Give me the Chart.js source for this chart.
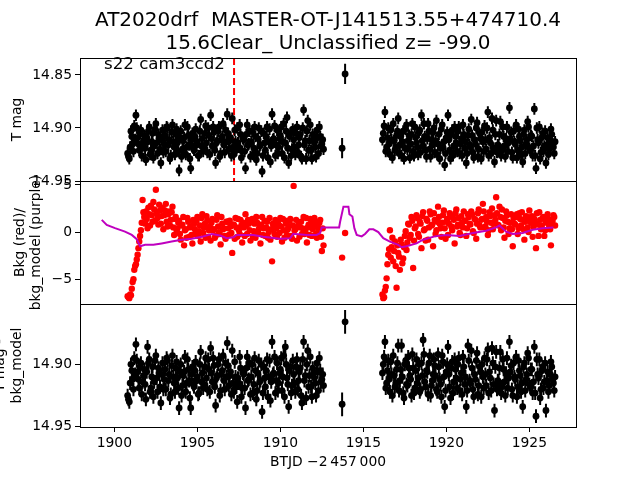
<!DOCTYPE html>
<html>
<head>
<meta charset="utf-8">
<script src="https://cdn.jsdelivr.net/npm/chart.js@4.4.1/dist/chart.umd.min.js"></script>
<style>
html,body{margin:0;padding:0;background:#fff;width:640px;height:480px;overflow:hidden;}
canvas{position:absolute;left:0;top:0;}
.t{position:absolute;font-family:'DejaVu Sans';color:#000;white-space:pre;}
</style>
</head>
<body>
<canvas id="c1" width="640" height="480"></canvas>
<canvas id="c2" width="640" height="480"></canvas>
<canvas id="c3" width="640" height="480"></canvas>
<div class="t" style="left:0;width:656px;text-align:center;top:9px;font-size:20px;line-height:20px">AT2020drf  MASTER-OT-J141513.55+474710.4</div>
<div class="t" style="left:0;width:656px;text-align:center;top:32px;font-size:20px;line-height:20px">15.6Clear_ Unclassified z= -99.0</div>
<div class="t" style="left:104px;top:56px;font-size:16.67px;line-height:16.67px">s22 cam3ccd2</div>
<script>
// ---- data (BTJD - 2457000) : cadence set 1 ----
const times = [
1900.8,1900.9,1901.0,1901.1,1901.2,1901.3,1901.4,1901.5,1901.6,1901.7,
1901.8,1901.9,1902.0,1902.1,1902.2,1902.3,1902.4,1902.5,1902.6,1902.7,
1902.8,1902.9,1903.0,1903.1,1903.2,1903.3,1903.4,1903.5,1903.6,1903.7,
1903.8,1903.9,1904.0,1904.1,1904.2,1904.3,1904.4,1904.5,1904.6,1904.7,
1904.8,1904.9,1905.0,1905.1,1905.2,1905.3,1905.4,1905.5,1905.6,1905.7,
1905.8,1905.9,1906.0,1906.1,1906.2,1906.3,1906.4,1906.5,1906.6,1906.7,
1906.8,1906.9,1907.0,1907.1,1907.2,1907.3,1907.4,1907.5,1907.6,1907.7,
1907.8,1907.9,1908.0,1908.1,1908.2,1908.3,1908.4,1908.5,1908.6,1908.7,
1908.8,1908.9,1909.0,1909.1,1909.2,1909.3,1909.4,1909.5,1909.6,1909.7,
1909.8,1909.9,1910.0,1910.1,1910.2,1910.3,1910.4,1910.5,1910.6,1910.7,
1910.8,1910.9,1911.0,1911.1,1911.2,1911.3,1911.4,1911.5,1911.6,1911.7,
1911.8,1911.9,1912.0,1912.1,1912.2,1912.3,1912.4,1912.5,1912.6,
1916.2,1916.3,1916.4,1916.5,1916.6,1916.7,1916.8,1916.9,1917.0,1917.1,
1917.2,1917.3,1917.4,1917.5,1917.6,1917.7,1917.8,1917.9,1918.0,1918.1,
1918.2,1918.3,1918.4,1918.5,1918.6,1918.7,1918.8,1918.9,1919.0,1919.1,
1919.2,1919.3,1919.4,1919.5,1919.6,1919.7,1919.8,1919.9,1920.0,1920.1,
1920.2,1920.3,1920.4,1920.5,1920.6,1920.7,1920.8,1920.9,1921.0,1921.1,
1921.2,1921.3,1921.4,1921.5,1921.6,1921.7,1921.8,1921.9,1922.0,1922.1,
1922.2,1922.3,1922.4,1922.5,1922.6,1922.7,1922.8,1922.9,1923.0,1923.1,
1923.2,1923.3,1923.4,1923.5,1923.6,1923.7,1923.8,1923.9,1924.0,1924.1,
1924.2,1924.3,1924.4,1924.5,1924.6,1924.7,1924.8,1924.9,1925.0,1925.1,
1925.2,1925.3,1925.4,1925.5,1925.6,1925.7,1925.8,1925.9,1926.0,1926.1,
1926.2,1926.3,1926.4,1926.5
];
const tMag = [
14.924,14.929,14.903,14.915,14.898,14.888,14.909,14.921,14.902,14.917,
14.907,14.930,14.913,14.899,14.921,14.905,14.917,14.896,14.924,14.910,
14.933,14.902,14.915,14.922,14.900,14.911,14.926,14.897,14.918,14.906,
14.914,14.940,14.903,14.920,14.909,14.925,14.899,14.916,14.938,14.905,
14.921,14.901,14.913,14.926,14.892,14.910,14.919,14.898,14.923,14.907,
14.888,14.917,14.904,14.933,14.912,14.899,14.924,14.908,14.916,14.902,
14.887,14.920,14.909,14.891,14.925,14.913,14.900,14.918,14.906,14.922,
14.911,14.938,14.897,14.915,14.927,14.903,14.919,14.908,14.924,14.900,
14.916,14.941,14.905,14.921,14.899,14.913,14.932,14.887,14.910,14.926,
14.902,14.918,14.907,14.924,14.896,14.914,14.890,14.933,14.905,14.920,
14.911,14.925,14.899,14.916,14.906,14.929,14.883,14.912,14.903,14.921,
14.897,14.929,14.910,14.918,14.902,14.924,14.908,14.915,14.920,
14.905,14.885,14.918,14.900,14.925,14.911,14.896,14.921,14.907,14.891,
14.916,14.926,14.903,14.919,14.897,14.912,14.928,14.906,14.922,14.899,
14.914,14.925,14.902,14.888,14.917,14.908,14.927,14.896,14.920,14.911,
14.904,14.923,14.893,14.915,14.929,14.901,14.918,14.935,14.909,14.888,
14.921,14.906,14.926,14.899,14.914,14.903,14.924,14.910,14.897,14.919,
14.933,14.907,14.916,14.892,14.923,14.911,14.900,14.927,14.905,14.929,
14.913,14.898,14.920,14.885,14.909,14.924,14.902,14.932,14.893,14.916,
14.906,14.926,14.899,14.917,14.910,14.922,14.881,14.904,14.928,14.913,
14.897,14.921,14.908,14.925,14.932,14.902,14.915,14.894,14.919,14.907,
14.926,14.882,14.938,14.911,14.899,14.923,14.905,14.917,14.933,14.909,
14.920,14.901,14.915,14.924
];
const bkg = [
-6.8,-7.0,-6.7,-5.3,-4.0,-3.4,-2.4,-1.0,0.2,3.4,
1.6,2.2,0.4,1.9,2.8,1.1,2.4,4.5,1.5,2.9,
0.9,2.6,1.8,3.0,0.6,2.2,1.3,2.7,-0.3,1.6,
0.4,1.2,-0.8,0.8,-1.4,0.3,1.5,-0.5,0.6,-1.2,
0.9,-0.2,1.6,0.1,-1.0,1.9,0.5,-0.6,1.2,0.2,
-0.9,1.4,0.3,-0.4,1.8,0.0,-1.3,0.9,0.4,-0.7,
1.1,-0.3,0.6,-2.2,0.8,1.5,-0.5,0.2,1.3,-1.1,
0.5,1.9,-0.2,0.9,-0.9,1.4,0.1,-0.6,1.0,0.3,
-1.2,1.6,0.4,-0.4,1.1,0.0,-0.8,-3.1,0.7,1.3,
-0.5,0.8,1.5,-1.0,0.2,1.2,-0.3,0.6,1.4,-0.7,
4.9,0.3,-0.9,1.0,0.5,-0.2,1.6,0.1,-1.1,0.8,
1.4,-0.4,0.6,1.1,-0.6,0.2,1.3,-2.0,-1.4,
-7.0,-6.2,-4.9,-2.4,0.2,-1.6,-3.1,-1.0,-5.9,-2.2,
-4.0,-1.3,-2.8,-0.4,-1.9,0.9,-0.6,1.6,-3.8,0.4,
1.8,-0.2,1.1,-1.7,2.1,0.3,1.4,-0.8,2.2,0.7,
-1.5,1.3,0.2,2.7,0.9,-0.5,1.8,0.4,1.1,-0.3,
2.0,0.6,1.5,-1.2,2.4,0.8,-0.1,1.7,0.5,1.2,
-0.4,1.9,0.9,2.2,0.1,1.4,-0.7,2.0,0.7,1.3,
3.0,0.5,1.6,-0.3,2.1,1.0,0.3,1.8,3.7,0.8,
2.7,0.2,1.5,-0.6,2.2,1.1,0.4,1.9,-1.5,0.9,
1.6,-0.2,2.0,0.7,1.3,-0.8,1.7,0.5,2.3,1.0,
-0.5,1.4,-1.7,0.8,2.1,0.3,1.5,-0.4,1.1,1.9,
0.6,-1.4,1.2,1.6
];
const tMagCorr = [
14.925,14.930,14.900,14.912,14.895,14.884,14.906,14.919,14.899,14.914,
14.904,14.928,14.886,14.896,14.919,14.902,14.914,14.893,14.922,14.907,
14.931,14.899,14.912,14.920,14.897,14.908,14.924,14.893,14.915,14.903,
14.911,14.935,14.900,14.917,14.906,14.922,14.896,14.913,14.935,14.902,
14.918,14.898,14.910,14.923,14.890,14.907,14.916,14.895,14.920,14.904,
14.887,14.914,14.901,14.933,14.909,14.896,14.921,14.905,14.913,14.899,
14.883,14.917,14.906,14.889,14.922,14.910,14.930,14.915,14.903,14.919,
14.908,14.935,14.894,14.912,14.924,14.900,14.916,14.905,14.921,14.897,
14.913,14.938,14.902,14.918,14.896,14.910,14.929,14.882,14.907,14.923,
14.899,14.915,14.904,14.921,14.893,14.886,14.911,14.934,14.902,14.917,
14.908,14.922,14.896,14.913,14.903,14.931,14.882,14.909,14.900,14.918,
14.894,14.926,14.907,14.915,14.899,14.921,14.905,14.912,14.917,
14.900,14.882,14.915,14.897,14.922,14.908,14.893,14.918,14.904,14.885,
14.913,14.885,14.923,14.900,14.916,14.894,14.909,14.925,14.903,14.919,
14.896,14.911,14.922,14.899,14.8805,14.914,14.905,14.924,14.893,14.917,
14.908,14.901,14.920,14.892,14.912,14.926,14.898,14.934,14.906,14.886,
14.918,14.903,14.923,14.896,14.911,14.900,14.921,14.907,14.894,14.916,
14.934,14.885,14.913,14.889,14.920,14.908,14.897,14.924,14.902,14.926,
14.910,14.895,14.917,14.888,14.906,14.921,14.899,14.937,14.890,14.913,
14.903,14.923,14.896,14.914,14.907,14.919,14.882,14.901,14.925,14.910,
14.894,14.918,14.905,14.922,14.934,14.899,14.912,14.891,14.916,14.904,
14.923,14.886,14.9415,14.908,14.896,14.920,14.902,14.914,14.937,14.906,
14.917,14.898,14.912,14.921
];
// ---- cadence set 2 (interleaved, half a step later) ----
const times2 = [
1900.85,1900.95,1901.05,1901.15,1901.25,1901.35,1901.45,1901.55,1901.65,1901.75,
1901.85,1901.95,1902.05,1902.15,1902.25,1902.35,1902.45,1902.55,1902.65,1902.75,
1902.85,1902.95,1903.05,1903.15,1903.25,1903.35,1903.45,1903.55,1903.65,1903.75,
1903.85,1903.95,1904.05,1904.15,1904.25,1904.35,1904.45,1904.55,1904.65,1904.75,
1904.85,1904.95,1905.05,1905.15,1905.25,1905.35,1905.45,1905.55,1905.65,1905.75,
1905.85,1905.95,1906.05,1906.15,1906.25,1906.35,1906.45,1906.55,1906.65,1906.75,
1906.85,1906.95,1907.05,1907.15,1907.25,1907.35,1907.45,1907.55,1907.65,1907.75,
1907.85,1907.95,1908.05,1908.15,1908.25,1908.35,1908.45,1908.55,1908.65,1908.75,
1908.85,1908.95,1909.05,1909.15,1909.25,1909.35,1909.45,1909.55,1909.65,1909.75,
1909.85,1909.95,1910.05,1910.15,1910.25,1910.35,1910.45,1910.55,1910.65,1910.75,
1910.85,1910.95,1911.05,1911.15,1911.25,1911.35,1911.45,1911.55,1911.65,1911.75,
1911.85,1911.95,1912.05,1912.15,1912.25,1912.35,1912.45,1912.55,
1916.15,1916.25,1916.35,1916.45,1916.55,1916.65,1916.75,1916.85,1916.95,1917.05,
1917.15,1917.25,1917.35,1917.45,1917.55,1917.65,1917.75,1917.85,1917.95,1918.05,
1918.15,1918.25,1918.35,1918.45,1918.55,1918.65,1918.75,1918.85,1918.95,1919.05,
1919.15,1919.25,1919.35,1919.45,1919.55,1919.65,1919.75,1919.85,1919.95,1920.05,
1920.15,1920.25,1920.35,1920.45,1920.55,1920.65,1920.75,1920.85,1920.95,1921.05,
1921.15,1921.25,1921.35,1921.45,1921.55,1921.65,1921.75,1921.85,1921.95,1922.05,
1922.15,1922.25,1922.35,1922.45,1922.55,1922.65,1922.75,1922.85,1922.95,1923.05,
1923.15,1923.25,1923.35,1923.45,1923.55,1923.65,1923.75,1923.85,1923.95,1924.05,
1924.15,1924.25,1924.35,1924.45,1924.55,1924.65,1924.75,1924.85,1924.95,1925.05,
1925.15,1925.25,1925.35,1925.45,1925.55,1925.65,1925.75,1925.85,1925.95,1926.05,
1926.15,1926.25,1926.35,1926.45,1926.55
];
const tMag2 = [
14.927,14.918,14.908,14.922,14.911,14.900,14.915,14.905,14.926,14.912,
14.919,14.909,14.903,14.925,14.913,14.928,14.901,14.914,14.906,14.920,
14.911,14.923,14.907,14.899,14.916,14.929,14.904,14.913,14.925,14.901,
14.922,14.909,14.927,14.912,14.897,14.918,14.907,14.929,14.911,14.919,
14.908,14.916,14.926,14.903,14.917,14.922,14.905,14.914,14.900,14.925,
14.910,14.899,14.921,14.914,14.903,14.927,14.911,14.896,14.923,14.913,
14.905,14.912,14.926,14.918,14.902,14.921,14.914,14.897,14.928,14.910,
14.922,14.906,14.916,14.903,14.913,14.925,14.899,14.930,14.910,14.917,
14.903,14.926,14.914,14.908,14.928,14.901,14.917,14.911,14.898,14.916,
14.924,14.910,14.899,14.913,14.928,14.903,14.919,14.908,14.926,14.901,
14.918,14.905,14.923,14.909,14.927,14.900,14.916,14.929,14.893,14.912,
14.921,14.906,14.914,14.927,14.909,14.899,14.917,14.911,
14.911,14.898,14.922,14.909,14.915,14.902,14.928,14.912,14.918,14.903,
14.924,14.908,14.913,14.929,14.901,14.920,14.907,14.915,14.896,14.926,
14.909,14.918,14.904,14.923,14.912,14.896,14.921,14.910,14.903,14.927,
14.916,14.900,14.912,14.925,14.906,14.919,14.897,14.913,14.924,14.904,
14.911,14.929,14.902,14.917,14.908,14.922,14.899,14.915,14.926,14.906,
14.913,14.924,14.901,14.918,14.907,14.928,14.915,14.895,14.920,14.910,
14.904,14.922,14.911,14.900,14.926,14.914,14.891,14.919,14.906,14.923,
14.917,14.894,14.921,14.908,14.927,14.899,14.914,14.910,14.923,14.903,
14.915,14.928,14.901,14.912,14.918,14.906,14.924,14.911,14.899,14.921,
14.908,14.917,14.926,14.900,14.914,14.929,14.909,14.922,14.903,14.916,
14.925,14.911,14.906,14.918,14.913
];
const bkg2 = [
-6.9,-6.6,-6.0,-5.0,-3.6,-2.9,-1.7,-0.4,1.0,2.1,
0.9,1.4,2.6,0.7,1.8,3.2,1.2,2.0,0.8,2.3,
1.7,0.3,2.3,1.1,1.9,0.7,2.1,0.5,1.4,0.2,
1.0,-0.2,0.7,1.6,0.2,-0.6,1.1,0.5,-0.3,1.3,
0.3,1.2,-0.4,0.7,1.5,-0.1,0.9,1.7,-0.5,0.6,
1.0,0.2,-0.6,1.3,0.6,-0.2,1.6,0.3,-0.4,1.1,
0.4,1.2,-0.1,0.8,-0.7,0.5,1.4,-0.2,0.7,1.0,
-0.4,0.7,1.3,0.2,1.1,-0.5,0.9,1.6,-0.1,0.6,
0.8,-0.3,1.2,0.5,-0.6,1.5,0.3,0.9,-0.2,0.4,
1.1,-0.1,0.6,1.4,-0.6,0.9,0.3,1.2,-0.4,0.7,
0.2,1.3,0.6,-0.5,1.1,0.4,-0.2,1.5,0.5,-0.3,
0.9,0.3,1.5,-0.2,0.7,1.0,-0.5,0.4,
-6.6,-6.9,-5.8,-3.4,-1.8,-2.7,-0.6,-2.0,-3.6,-1.4,
-2.6,-0.8,-3.3,-1.6,0.1,-1.1,0.8,-0.3,1.2,-0.9,
0.6,1.5,-0.5,0.9,1.7,0.2,-0.9,1.2,0.5,1.9,
0.8,2.0,-0.2,1.1,1.6,0.4,1.0,2.3,-0.7,1.4,
0.9,1.8,0.2,1.3,2.0,0.6,1.5,-0.3,1.0,2.2,
1.2,0.4,1.6,0.8,1.9,-0.1,1.3,0.9,2.4,0.5,
1.4,2.2,0.6,1.1,0.2,1.7,2.5,0.9,1.3,2.0,
0.7,1.6,2.4,0.5,1.2,1.8,-0.2,1.0,0.3,1.5,
0.8,1.9,0.4,1.4,2.1,0.3,1.1,1.6,0.0,1.2,
1.7,0.6,1.0,2.0,-0.4,1.3,0.7,1.6,0.2,1.0,
1.4,0.3,0.9,1.8,0.7
];
const tMagCorr2 = [
14.928,14.915,14.905,14.920,14.908,14.897,14.912,14.902,14.924,14.909,
14.916,14.906,14.899,14.922,14.910,14.926,14.897,14.911,14.903,14.918,
14.908,14.920,14.904,14.895,14.913,14.927,14.901,14.910,14.922,14.898,
14.919,14.906,14.925,14.909,14.894,14.915,14.904,14.927,14.908,14.916,
14.905,14.913,14.924,14.900,14.914,14.919,14.902,14.911,14.896,14.922,
14.907,14.895,14.918,14.911,14.900,14.925,14.908,14.893,14.920,14.910,
14.901,14.909,14.924,14.915,14.898,14.918,14.911,14.894,14.926,14.907,
14.919,14.903,14.913,14.899,14.910,14.923,14.895,14.928,14.907,14.914,
14.900,14.923,14.911,14.905,14.926,14.897,14.914,14.908,14.894,14.913,
14.921,14.907,14.895,14.910,14.926,14.900,14.916,14.905,14.923,14.897,
14.915,14.902,14.920,14.906,14.925,14.896,14.913,14.927,14.889,14.909,
14.918,14.903,14.911,14.925,14.906,14.895,14.914,14.908,
14.907,14.894,14.919,14.905,14.912,14.898,14.925,14.909,14.915,14.899,
14.921,14.904,14.910,14.927,14.897,14.917,14.903,14.912,14.892,14.923,
14.905,14.915,14.900,14.920,14.909,14.892,14.918,14.906,14.899,14.925,
14.913,14.896,14.909,14.922,14.902,14.916,14.893,14.910,14.921,14.900,
14.908,14.927,14.898,14.914,14.904,14.919,14.895,14.912,14.924,14.902,
14.910,14.921,14.897,14.915,14.903,14.926,14.912,14.891,14.917,14.906,
14.900,14.919,14.908,14.896,14.923,14.911,14.887,14.916,14.902,14.920,
14.914,14.890,14.918,14.904,14.925,14.895,14.911,14.906,14.920,14.899,
14.912,14.926,14.897,14.909,14.915,14.902,14.921,14.908,14.895,14.918,
14.904,14.914,14.923,14.896,14.911,14.927,14.905,14.919,14.899,14.913,
14.922,14.908,14.902,14.915,14.910
];
const magErr = 0.0055;
// two isolated cadences in the mid-sector gap
const isoTimes = [1913.72, 1913.90];
const isoMag = [14.919, 14.849];
const isoBkg = [-2.7, -0.1];
const isoMagCorr = [14.932, 14.866];
const isoErr = [0.0095, 0.0095];
// background model (purple)
const modelTimes = [1899.24,1899.54,1900.04,1900.64,1901.05,1901.35,1901.55,1901.85,1902.35,1902.85,1903.45,1904.06,1904.66,1905.27,1905.87,1906.37,1906.77,1907.17,1907.37,1908.37,1908.97,1909.98,1910.58,1910.78,1911.59,1912.19,1912.39,1912.49,1913.54,1913.6,1913.8,1914.1,1914.16,1914.34,1914.46,1914.6,1914.9,1915.1,1915.36,1915.6,1915.9,1916.2,1916.6,1917.1,1917.3,1917.6,1918.2,1918.6,1919.3,1920.0,1920.8,1921.6,1922.4,1923.0,1923.2,1923.6,1924.0,1924.6,1925.2,1925.8,1926.45];
const modelBkg = [1.3,0.77,0.42,0.06,-0.3,-0.75,-1.5,-1.35,-1.35,-1.2,-1.0,-0.8,-0.7,-0.5,-0.2,-0.35,-0.65,-0.55,-0.3,-0.3,-0.5,-0.7,-0.65,-0.18,-0.3,-0.3,-0.1,0.5,0.5,1.1,2.7,2.7,1.9,1.65,0.4,-0.3,-0.45,-0.2,0.3,0.3,0.0,-0.65,-1.0,-1.35,-1.6,-1.5,-1.2,-0.8,-0.45,-0.3,-0.4,-0.1,0.15,0.5,0.7,0.05,-0.2,-0.1,0.25,0.4,0.5];
const markTime = 1907.21;
// axes
const xRange = [1897.93, 1927.81];
const xTicks = [1900, 1905, 1910, 1915, 1920, 1925];
const y1Range = [14.834, 14.950];
const y1Ticks = [14.85, 14.90, 14.95];
const y2Range = [-7.62, 5.42];
const y2Ticks = [5, 0, -5];
const y3Range = [14.8517, 14.9502];
const y3Ticks = [14.90, 14.95];

// ---- helpers ----
const FONT = 'DejaVu Sans';
const pts = (ts, vs) => ts.map((t, i) => ({x: t, y: vs[i]}));
function errSegs(ts, vs, e) {
  const out = [];
  ts.forEach((t, i) => {
    const ee = Array.isArray(e) ? e[i] : e;
    out.push({x: t, y: vs[i] - ee}, {x: t, y: vs[i] + ee}, {x: t, y: null});
  });
  return out;
}
const frame = {
  id: 'frame',
  afterDraw(chart) {
    const {ctx, chartArea: a} = chart;
    ctx.save();
    ctx.strokeStyle = '#000';
    ctx.lineWidth = 1;
    ctx.strokeRect(Math.round(a.left) + 0.5, Math.round(a.top) + 0.5,
                   Math.round(a.right - a.left), Math.round(a.bottom - a.top));
    ctx.restore();
  }
};
const magFmt = v => v.toFixed(2);
const bkgFmt = v => (v < 0 ? '\u2212' + Math.abs(v) : String(v));

function yScale(range, ticks, fmt, title, titlePad, reverse) {
  return {
    type: 'linear', position: 'left', reverse: reverse,
    min: range[0], max: range[1],
    afterFit: s => { s.width = 80; },
    afterBuildTicks: s => { s.ticks = ticks.map(v => ({value: v})); },
    ticks: {callback: fmt, color: '#000', font: {family: FONT, size: 13.89}, padding: 3, autoSkip: false},
    grid: {drawOnChartArea: false, drawTicks: true, tickLength: 5, tickColor: '#000', tickWidth: 1},
    border: {display: false},
    title: {display: true, text: title, color: '#000', font: {family: FONT, size: 13.89}, padding: {top: titlePad, bottom: 0}}
  };
}
function xScale(show) {
  if (!show) return {type: 'linear', min: xRange[0], max: xRange[1], display: false, offset: false};
  return {
    type: 'linear', position: 'bottom', min: xRange[0], max: xRange[1], offset: false,
    afterFit: s => { s.height = 53; },
    afterBuildTicks: s => { s.ticks = xTicks.map(v => ({value: v})); },
    ticks: {callback: v => String(v), color: '#000', font: {family: FONT, size: 13.89}, padding: 3, maxRotation: 0, autoSkip: false},
    grid: {drawOnChartArea: false, drawTicks: true, tickLength: 5, tickColor: '#000', tickWidth: 1, offset: false},
    border: {display: false},
    title: {display: true, text: 'BTJD \u22122\u2009457\u2009000', color: '#000', font: {family: FONT, size: 13.89}, padding: {top: 0, bottom: 9.3}}
  };
}
function baseOptions(top, bottom, showX, yOpts) {
  return {
    responsive: false, animation: false, events: [], devicePixelRatio: 1,
    layout: {padding: {top: top, bottom: bottom, left: 0, right: 64}},
    plugins: {legend: {display: false}, tooltip: {enabled: false}, title: {display: false}},
    scales: {x: xScale(showX), y: yOpts}
  };
}
const errStyle = {type: 'line', borderColor: '#000', borderWidth: 2, pointRadius: 0, spanGaps: false, fill: false, tension: 0};
const dotStyle = {type: 'scatter', pointRadius: 3.4, pointBorderWidth: 0, pointBackgroundColor: '#000', pointHoverRadius: 3.4};

// ---- panel 1: T mag ----
new Chart(document.getElementById('c1'), {
  type: 'scatter',
  data: {datasets: [
    Object.assign({}, dotStyle, {data: pts(times, tMag).concat(pts(times2, tMag2), pts(isoTimes, isoMag)), order: 1}),
    Object.assign({}, errStyle, {data: errSegs(times, tMag, magErr).concat(errSegs(times2, tMag2, magErr), errSegs(isoTimes, isoMag, isoErr)), order: 2}),
    {type: 'line', data: [{x: markTime, y: y1Range[0]}, {x: markTime, y: y1Range[1]}],
     borderColor: '#ff0000', borderWidth: 2, borderDash: [7, 3], pointRadius: 0, fill: false, order: 3}
  ]},
  options: baseOptions(58, 299, false, yScale(y1Range, y1Ticks, magFmt, 'T mag', 9, true)),
  plugins: [frame]
});

// ---- panel 2: background ----
new Chart(document.getElementById('c2'), {
  type: 'scatter',
  data: {datasets: [
    {type: 'line', data: pts(modelTimes, modelBkg), borderColor: '#bf00bf', borderWidth: 2,
     pointRadius: 0, fill: false, tension: 0, order: 1},
    {type: 'scatter', data: pts(times, bkg).concat(pts(times2, bkg2), pts(isoTimes, isoBkg)), pointRadius: 3.2,
     pointBorderWidth: 0, pointBackgroundColor: '#ff0000', order: 2}
  ]},
  options: baseOptions(181, 176, false, yScale(y2Range, y2Ticks, bkgFmt, ['Bkg (red)/', 'bkg_model (purple)'], 11.6, false)),
  plugins: [frame]
});

// ---- panel 3: T mag - bkg_model ----
new Chart(document.getElementById('c3'), {
  type: 'scatter',
  data: {datasets: [
    Object.assign({}, dotStyle, {data: pts(times, tMagCorr).concat(pts(times2, tMagCorr2), pts(isoTimes, isoMagCorr)), order: 1}),
    Object.assign({}, errStyle, {data: errSegs(times, tMagCorr, magErr).concat(errSegs(times2, tMagCorr2, magErr), errSegs(isoTimes, isoMagCorr, isoErr)), order: 2})
  ]},
  options: baseOptions(304, 0, true, yScale(y3Range, y3Ticks, magFmt, ['T mag -', 'bkg_model'], -7.7, true)),
  plugins: [frame]
});
</script>
</body>
</html>
